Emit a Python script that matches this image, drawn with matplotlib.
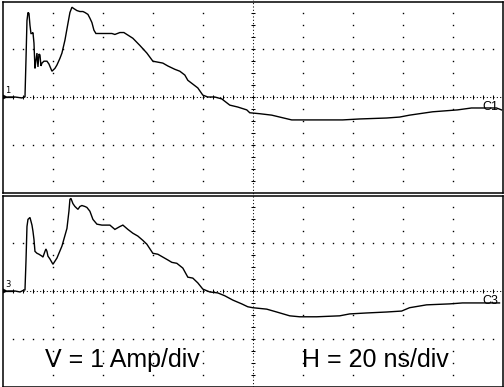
import numpy as np
import matplotlib.pyplot as plt
from matplotlib.lines import Line2D

# 数据：时间 (ns) 与电流 (A)，从示波器截图读取
t_c1 = [2.0, 4.8, 7.6, 8.4, 8.8, 9.2, 9.6, 10.0, 10.4, 10.8, 11.2, 11.6, 12.0, 12.4, 12.8,
        13.2, 13.6, 14.0, 14.4, 14.8, 15.2, 15.6, 16.4, 17.6, 18.4, 19.6, 20.8, 21.6, 22.8,
        23.6, 24.8, 26.0, 26.8, 27.6, 28.4, 29.6, 30.8, 32.0, 32.8, 34.0, 34.8, 35.6, 36.4,
        37.2, 38.8, 40.8, 43.6, 44.8, 46.8, 48.4, 49.6, 52.0, 54.8, 57.6, 60.0, 62.0, 64.0,
        66.0, 68.8, 70.8, 72.8, 74.0, 76.0, 78.0, 80.0, 82.0, 84.8, 87.6, 90.8, 94.0, 97.6,
        98.8, 102.8, 107.6, 110.8, 115.6, 122.8, 136.0, 142.8, 153.6, 158.8, 162.8, 172.0,
        182.0, 187.6, 193.6, 197.6, 199.6]
c1_amp = [0, 0, -0.02, 0, 0, 0.77, 1.60, 1.77, 1.75, 1.50, 1.33, 1.33, 1.35, 1.13, 0.60,
          0.77, 0.92, 0.63, 0.90, 0.88, 0.65, 0.71, 0.75, 0.75, 0.69, 0.54, 0.60, 0.67, 0.81,
          0.92, 1.19, 1.54, 1.77, 1.88, 1.85, 1.81, 1.79, 1.79, 1.77, 1.73, 1.65, 1.56, 1.40,
          1.33, 1.33, 1.33, 1.33, 1.31, 1.35, 1.35, 1.31, 1.23, 1.08, 0.92, 0.75, 0.73, 0.71,
          0.65, 0.58, 0.54, 0.46, 0.35, 0.27, 0.19, 0.04, 0, 0, -0.04, -0.17, -0.21, -0.27,
          -0.33, -0.35, -0.38, -0.42, -0.48, -0.48, -0.48, -0.46, -0.44, -0.42, -0.38, -0.31,
          -0.27, -0.23, -0.23, -0.23, -0.27]

t_c3 = [2.0, 4.8, 6.8, 8.4, 8.8, 9.2, 9.6, 10.0, 10.4, 10.8, 11.2, 11.6, 12.0, 12.4, 12.8,
        13.6, 14.4, 15.6, 16.0, 16.8, 17.2, 17.6, 18.0, 18.8, 20.0, 21.6, 23.6, 25.6, 26.4,
        26.8, 27.2, 28.0, 28.8, 29.6, 30.0, 30.8, 31.6, 32.8, 33.6, 34.8, 36.0, 37.6, 39.6,
        42.8, 44.8, 46.8, 48.0, 50.0, 52.0, 54.0, 56.0, 57.6, 60.0, 62.0, 64.0, 66.0, 67.6,
        69.6, 72.0, 74.0, 76.0, 78.0, 80.0, 82.8, 86.0, 88.8, 92.0, 95.6, 98.0, 100.0, 105.6,
        109.6, 114.8, 118.8, 125.6, 134.8, 138.8, 145.6, 153.6, 159.6, 162.8, 169.6, 178.8,
        184.0, 193.6, 198.8]
c3_amp = [0, 0, -0.02, 0.02, 0.02, 0.62, 1.35, 1.50, 1.52, 1.54, 1.46, 1.38, 1.25, 1.08, 0.83,
          0.79, 0.77, 0.73, 0.71, 0.83, 0.88, 0.83, 0.73, 0.67, 0.56, 0.69, 0.94, 1.31, 1.67,
          1.92, 1.94, 1.83, 1.77, 1.73, 1.71, 1.77, 1.79, 1.77, 1.75, 1.67, 1.50, 1.40, 1.38,
          1.38, 1.29, 1.35, 1.38, 1.29, 1.21, 1.15, 1.06, 0.98, 0.79, 0.77, 0.71, 0.65, 0.60,
          0.58, 0.48, 0.29, 0.27, 0.17, 0.04, -0.02, -0.04, -0.10, -0.19, -0.27, -0.33, -0.35,
          -0.38, -0.44, -0.52, -0.54, -0.54, -0.52, -0.48, -0.46, -0.44, -0.42, -0.35, -0.29,
          -0.27, -0.25, -0.25, -0.25]

ch_labels = ["C1", "C3"]
gnd_labels = ["1", "3"]
v_text = "V = 1 Amp/div"
h_text = "H = 20 ns/div"

W, H = 504, 387
fig = plt.figure(figsize=(W / 100, H / 100), dpi=100)

ax1 = fig.add_axes([3 / W, (H - 192.5) / H, 499.5 / W, 191 / H])
ax2 = fig.add_axes([3 / W, (H - 386.5) / H, 499.5 / W, 191 / H])


def draw_grid(ax):
    ax.set_xlim(0, 200)
    ax.set_ylim(-2, 2)
    ax.set_xticks([])
    ax.set_yticks([])
    for s in ax.spines.values():
        s.set_linewidth(1.1)
    # 竖向网格点
    ys = np.arange(-1.75, 2.0, 0.25)
    for x in range(20, 200, 20):
        if x == 100:
            continue
        ax.plot([x] * len(ys), ys, ls="none", marker="s", ms=1.0, mew=0, color="k")
    # 横向网格点 (±1)
    xs = np.arange(4, 200, 4)
    for y in (-1, 1):
        ax.plot(xs, [y] * len(xs), ls="none", marker="s", ms=1.0, mew=0, color="k")
    # 中心线
    ax.axhline(0, color="k", lw=0.75, ls=(0, (1, 2.2)))
    ax.plot(xs, [0] * len(xs), ls="none", marker="|", ms=2.5, mew=0.75, color="k")
    ax.plot([100] * len(ys), ys, ls="none", marker="_", ms=2.5, mew=0.75, color="k")


for ax, t, amp, lab, g in [(ax1, t_c1, c1_amp, ch_labels[0], gnd_labels[0]),
                           (ax2, t_c3, c3_amp, ch_labels[1], gnd_labels[1])]:
    draw_grid(ax)
    ax.plot(t, amp, color="k", lw=1.0, solid_joinstyle="miter")
    ax.text(192, -0.27, lab, fontsize=9, family="Liberation Sans", ha="left", va="baseline")
    # 接地标记
    ax.text(1.0, 0.05, g, fontsize=6, family="DejaVu Sans", ha="left", va="bottom")
    ax.plot([1.0], [0], marker=">", ms=4, color="k", mew=0)
    ax.plot([0.5, 4.0], [0, 0], color="k", lw=0.9)

# 中心竖线贯穿整幅图
fig.add_artist(Line2D([252.75 / W] * 2, [0, 1], transform=fig.transFigure,
                      color="k", lw=0.75, ls=(0, (1, 2.2))))

ax2.text(0.238, 0.102, v_text, transform=ax2.transAxes, fontsize=18,
         family="Liberation Sans", ha="center", va="baseline")
ax2.text(0.746, 0.102, h_text, transform=ax2.transAxes, fontsize=18,
         family="Liberation Sans", ha="center", va="baseline")

plt.savefig("out.png", dpi=100)
